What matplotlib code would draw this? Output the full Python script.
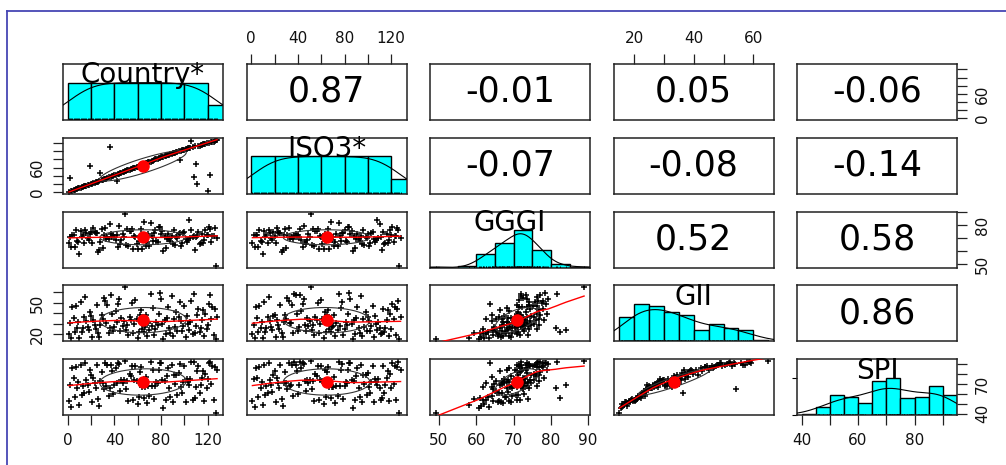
import numpy as np
import matplotlib
matplotlib.use('Agg')
import matplotlib.pyplot as plt
from matplotlib.lines import Line2D

# variables of the pairs plot (psych::pairs.panels style)
names = ['Country*', 'ISO3*', 'GGGI', 'GII', 'SPI']

# Country* is the factor code, i.e. the row number of the sorted data
country = list(range(1, 129))

iso3 = [1, 34, 3, 4, 5, 6, 7, 8, 9, 10, 11, 12, 13, 14, 15, 16,
        17, 18, 63, 19, 21, 22, 23, 24, 25, 26, 27, 46, 29, 30, 31, 32,
        33, 35, 36, 110, 38, 39, 40, 41, 43, 28, 44, 45, 47, 48, 49, 50,
        51, 52, 53, 54, 55, 56, 57, 58, 59, 60, 61, 62, 64, 65, 66, 67,
        68, 69, 71, 72, 73, 74, 75, 76, 77, 79, 80, 81, 82, 83, 84, 85,
        86, 87, 88, 89, 90, 91, 92, 93, 94, 95, 96, 97, 98, 99, 100, 78,
        101, 102, 103, 104, 105, 106, 107, 108, 109, 126, 111, 37, 112, 70, 20, 113,
        114, 115, 116, 117, 118, 119, 120, 2, 121, 42, 122, 123, 124, 125, 127, 128]

gggi = [66.2, 71.4, 63.4, 72.3, 72.4, 63.1, 76.4, 68.2, 67.2, 58.1, 75.8, 71.3, 72.5, 66.1, 76.2, 74.3,
        70.4, 68.4, 73.4, 74.8, 66.7, 78.1, 74.6, 74.2, 74.1, 59.4, 61.2, 66.9, 77.2, 62.6, 72.6, 77.9,
        69.8, 70.8, 69.7, 81.3, 73.3, 70.9, 72.8, 71.1, 68.7, 72.9, 63.7, 79.3, 65.3, 68.5, 73.2, 70.7,
        88.9, 64.6, 76.8, 64.5, 75.6, 75.9, 77.5, 61.8, 71.8, 71.4, 65.4, 62.0, 67.6, 71.7, 76.9, 61.9,
        82.4, 69.1, 64.2, 67.3, 73.6, 64.2, 81.7, 72.0, 68.2, 73.8, 76.3, 68.3, 67.5, 78.9, 78.4, 73.5,
        75.4, 60.7, 71.5, 62.7, 69.3, 73.7, 69.6, 68.1, 71.9, 65.9, 76.7, 64.8, 71.2, 70.6, 73.5, 74.2,
        64.1, 66.8, 73.9, 75.2, 69.4, 67.4, 68.8, 84.1, 70.2, 76.6, 70.9, 71.9, 60.9, 70.9, 72.1, 74.5,
        65.7, 66.3, 73.1, 66.4, 68.9, 76.3, 72.4, 72.7, 78.6, 77.1, 66.9, 71.5, 71.6, 77.8, 49.2, 70.4]

gii = [20.3, 30.4, 15.8, 45.6, 35.3, 21.7, 46.8, 25.4, 31.6, 16.4, 50.6, 22.4, 26.2, 36.5, 55.8, 32.8,
       27.1, 23.8, 40.8, 37.4, 17.1, 33.9, 28.3, 24.6, 47.9, 20.9, 17.6, 29.2, 38.6, 34.5, 54.3, 51.8,
       30.9, 48.2, 21.2, 25.9, 57.2, 39.5, 22.9, 26.8, 42.3, 31.2, 48.7, 53.9, 23.3, 35.8, 27.7, 32.3,
       64.8, 24.1, 28.9, 19.5, 36.9, 33.4, 49.5, 20.6, 29.6, 52.7, 34.8, 16.0, 21.9, 37.9, 43.6, 25.2,
       22.2, 26.5, 38.2, 17.9, 30.2, 23.6, 58.4, 27.4, 45.2, 19.1, 24.8, 31.9, 28.6, 39.1, 59.3, 53.5,
       29.9, 15.5, 33.1, 20.1, 35.6, 46.3, 25.7, 21.4, 56.6, 18.6, 34.2, 26.9, 41.5, 22.7, 36.2, 51.2,
       32.6, 23.1, 28.0, 47.4, 16.9, 37.1, 29.4, 24.4, 31.4, 52.1, 19.8, 58.9, 21.0, 27.9, 38.8, 44.4,
       22.5, 26.3, 33.7, 42.9, 18.2, 39.8, 24.9, 28.7, 49.1, 57.8, 34.9, 46.0, 18.9, 43.8, 15.0, 36.7]

spi = [52.6, 69.2, 46.2, 85.8, 76.2, 56.4, 87.2, 66.1, 72.1, 48.9, 89.4, 58.9, 67.8, 60.8, 90.9, 73.7,
       69.3, 61.7, 84.1, 79.1, 51.3, 76.4, 71.2, 66.3, 89.1, 55.2, 47.5, 72.6, 81.7, 71.3, 64.6, 90.8,
       67.6, 89.6, 57.8, 65.4, 88.7, 83.4, 59.6, 68.7, 86.2, 70.8, 91.2, 90.2, 62.4, 73.6, 70.6, 74.2,
       92.9, 64.8, 73.4, 53.2, 80.3, 77.9, 88.6, 54.1, 74.1, 87.9, 73.1, 49.6, 56.9, 82.1, 87.5, 67.2,
       55.7, 66.9, 77.4, 50.4, 68.4, 58.2, 92.1, 68.1, 83.7, 54.7, 67.9, 71.9, 70.9, 84.2, 91.4, 91.6,
       73.9, 45.8, 72.8, 53.8, 78.3, 86.4, 65.9, 57.3, 89.3, 52.1, 78.6, 69.5, 78.8, 59.1, 81.2, 89.8,
       66.5, 60.9, 71.8, 88.0, 51.7, 74.5, 72.3, 68.5, 74.8, 92.3, 53.9, 92.6, 56.1, 67.4, 82.9, 88.3,
       61.3, 69.0, 75.6, 82.6, 52.8, 79.6, 65.6, 74.6, 90.7, 91.8, 70.3, 87.8, 54.1, 86.9, 40.5, 83.8]

# correlations printed in the upper panels (row by row)
corr_text = ['0.87', '-0.01', '0.05', '-0.06',
             '-0.07', '-0.08', '-0.14',
             '0.52', '0.58',
             '0.86']

bin_width = [20, 20, 5, 5, 5]
axis_ticks = [[0, 20, 40, 60, 80, 100, 120], [0, 20, 40, 60, 80, 100, 120],
              [50, 60, 70, 80, 90], [20, 30, 40, 50, 60], [40, 50, 60, 70, 80, 90]]
x_shown = [[0, 40, 80, 120], [0, 40, 80, 120], [50, 60, 70, 80, 90], [20, 40, 60], [40, 60, 80]]
y_shown = [[0, 60], [0, 60], [50, 80], [20, 50], [40, 70]]

data = [np.array(v, float) for v in (country, iso3, gggi, gii, spi)]
nv = len(data)


def lowess(x, y, f=2/3, iters=3):
    o = np.argsort(x, kind='stable')
    x = x[o]; y = y[o]
    n = len(x)
    k = max(2, int(f * n + 1e-7))
    rw = np.ones(n)
    fit = np.zeros(n)
    for it in range(iters + 1):
        for i in range(n):
            d = np.abs(x - x[i])
            h = np.sort(d)[k - 1]
            if h <= 0:
                w = (d == 0).astype(float)
            else:
                w = np.clip(1 - (d / h) ** 3, 0, 1) ** 3
            w = w * rw
            sw = w.sum()
            xm = (w * x).sum() / sw
            ym = (w * y).sum() / sw
            sxx = (w * (x - xm) ** 2).sum()
            b = (w * (x - xm) * (y - ym)).sum() / sxx if sxx > 1e-12 else 0.0
            fit[i] = ym + b * (x[i] - xm)
        res = y - fit
        s = np.median(np.abs(res))
        if s == 0:
            break
        rw = np.clip(1 - (res / (6 * s)) ** 2, 0, 1) ** 2
    return x, fit


def ellipse(xm, ym, xs, ys, r, seg=51):
    a = np.arange(seg + 1) * 2 * np.pi / seg
    circ = np.column_stack([np.cos(a), np.sin(a)])
    th = np.sign(r) / np.sqrt(2) if abs(r) > 0 else 1 / np.sqrt(2)
    shape = np.diag([np.sqrt(1 + r), np.sqrt(1 - r)]) @ np.array([[th, th], [-th, th]])
    e = circ @ shape
    return e[:, 0] * xs + xm, e[:, 1] * ys + ym


# axis ranges like R pairs (range extended by 4%)
ranges = []
for v in data:
    lo, hi = v.min(), v.max()
    ranges.append((lo - 0.04 * (hi - lo), hi + 0.04 * (hi - lo)))

W, H = 1006, 465
fig = plt.figure(figsize=(W / 100, H / 100), dpi=100)
fig.patch.set_facecolor('white')

col_left = [63 + 183.5 * j for j in range(nv)]
row_top = [64 + 73.8 * i for i in range(nv)]
pw, ph = 160, 56

tick_kw = dict(length=7, width=0.9, pad=6, labelsize=11, color='#222222', labelcolor='#111111')
edge = '#222222'


def labels_for(ticks, shown):
    return [str(t) if t in shown else '' for t in ticks]


ci = 0
for i in range(nv):
    for j in range(nv):
        ax = fig.add_axes([col_left[j] / W, 1 - (row_top[i] + ph) / H, pw / W, ph / H])
        for s in ax.spines.values():
            s.set_color(edge)
            s.set_linewidth(1.1)
        ax.set_xlim(ranges[j])
        ax.set_ylim(ranges[i])
        ax.tick_params(which='both', bottom=False, top=False, left=False, right=False,
                       labelbottom=False, labeltop=False, labelleft=False, labelright=False)
        x = data[j]; y = data[i]

        if i == j:
            # histogram with density and rug
            wdt = bin_width[i]
            lo = np.floor(x.min() / wdt) * wdt
            hi = np.ceil(x.max() / wdt) * wdt
            edges = np.arange(lo, hi + wdt / 2, wdt)
            idx = np.clip(np.searchsorted(edges, x, side='left') - 1, 0, len(edges) - 2)
            counts = np.bincount(idx, minlength=len(edges) - 1)
            ax.set_ylim(0, 1.5)
            ax.bar(edges[:-1], counts / counts.max(), width=wdt, align='edge',
                   color='#00ffff', edgecolor='black', linewidth=1.0, zorder=2)
            n = len(x)
            sd = np.std(x, ddof=1)
            q75, q25 = np.percentile(x, [75, 25])
            bw = 1.06 * min(sd, (q75 - q25) / 1.34) * n ** -0.2 * 1.2
            grid = np.linspace(x.min() - 3 * bw, x.max() + 3 * bw, 512)
            dens = np.exp(-0.5 * ((grid[:, None] - x[None, :]) / bw) ** 2).sum(1) / (n * bw * np.sqrt(2 * np.pi))
            hdens_max = (counts / (n * wdt)).max()
            ax.plot(grid, dens / hdens_max, color='black', lw=0.8, zorder=3)
            ax.vlines(x, 0, 0.045, color='black', lw=0.6, zorder=3)
            ax.text(0.5, 0.655, names[i], transform=ax.transAxes, ha='center', va='baseline',
                    fontsize=20, color='black', zorder=5)
        elif i < j:
            ax.text(0.5, 0.5, corr_text[ci], transform=ax.transAxes, ha='center', va='center',
                    fontsize=25, color='black')
            ci += 1
        else:
            ax.plot(x, y, '+', color='black', ms=4.5, mew=1.1, zorder=2)
            r = np.corrcoef(x, y)[0, 1]
            ex, ey = ellipse(x.mean(), y.mean(), np.std(x, ddof=1), np.std(y, ddof=1), r)
            ax.plot(ex, ey, color='#333333', lw=0.8, zorder=3)
            lx, ly = lowess(x, y)
            ax.plot(lx, ly, color='red', lw=1.0, zorder=4)
            ax.plot(x.mean(), y.mean(), 'o', color='red', ms=8, zorder=5)

        # outer axes, alternating sides like R pairs()
        if i == 0 and j % 2 == 1:
            ax.set_xticks(axis_ticks[j], labels=labels_for(axis_ticks[j], x_shown[j]))
            ax.tick_params(axis='x', top=True, labeltop=True, **tick_kw)
        if i == nv - 1 and j % 2 == 0:
            ax.set_xticks(axis_ticks[j], labels=labels_for(axis_ticks[j], x_shown[j]))
            ax.tick_params(axis='x', bottom=True, labelbottom=True, **tick_kw)
        yax = ax
        if (j == 0 and i % 2 == 1) or (j == nv - 1 and i % 2 == 0):
            if i == j:
                yax = ax.twinx()
                yax.set_ylim(ranges[i])
                for s in yax.spines.values():
                    s.set_visible(False)
                yax.tick_params(which='both', right=False, labelright=False)
            yax.set_yticks(axis_ticks[i], labels=labels_for(axis_ticks[i], y_shown[i]))
            if j == 0:
                yax.tick_params(axis='y', left=True, labelleft=True, labelrotation=90, **tick_kw)
            else:
                yax.tick_params(axis='y', right=True, labelright=True, labelrotation=90, **tick_kw)
            for lab in yax.get_yticklabels():
                lab.set_va('center')

# blue frame of the screenshot
fig.add_artist(Line2D([7 / W, 7 / W], [0, 1 - 11 / H], transform=fig.transFigure,
                      color='#4646b4', lw=1.3))
fig.add_artist(Line2D([7 / W, 1], [1 - 11 / H, 1 - 11 / H], transform=fig.transFigure,
                      color='#4646b4', lw=1.3))

fig.savefig('out.png', dpi=100)
